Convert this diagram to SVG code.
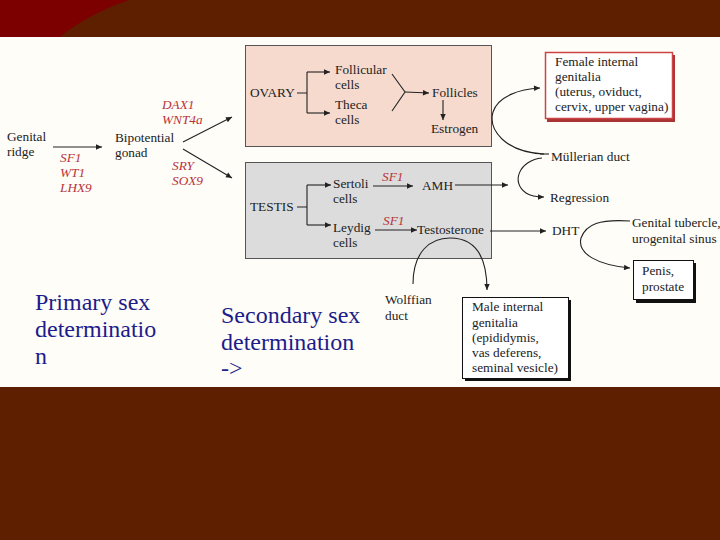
<svg xmlns="http://www.w3.org/2000/svg" width="720" height="540" viewBox="0 0 720 540">
<style>
.t{font-family:"Liberation Serif","Times New Roman",serif;font-size:13.3px;fill:#222}
.r{font-family:"Liberation Serif","Times New Roman",serif;font-size:13.3px;font-style:italic;fill:#b8343a}
.b{font-family:"Liberation Serif","Times New Roman",serif;font-size:24px;fill:#1c1c8a}
.ln{stroke:#222;stroke-width:1.1;fill:none}
.ar{stroke:#222;stroke-width:1.1;fill:none;marker-end:url(#ah)}
</style>
<defs>
<marker id="ah" viewBox="0 0 10 10" refX="10" refY="5" markerWidth="8" markerHeight="6" orient="auto" markerUnits="userSpaceOnUse">
<path d="M0,0.5 L10,5 L0,9.5 z" fill="#222"/>
</marker>
</defs>
<rect x="0" y="0" width="720" height="540" fill="#fffdf8"/>
<g id="top-band">
<rect x="0" y="0" width="720" height="37" fill="#5e1f00"/>
<path d="M0,0 L129,0 Q88,14 60,37 L0,37 z" fill="#7c0000"/>
</g>
<g id="bottom-band"><rect x="0" y="387" width="720" height="153" fill="#5e1f00"/></g>

<g id="ovary-box">
<rect x="245.5" y="45.5" width="246" height="101" fill="#f6dace" stroke="#555" stroke-width="1"/>
<text class="t" x="250" y="97">OVARY</text>
<text class="t" x="335" y="74">Follicular</text>
<text class="t" x="335" y="89">cells</text>
<text class="t" x="335" y="109">Theca</text>
<text class="t" x="335" y="124">cells</text>
<text class="t" x="432" y="97">Follicles</text>
<text class="t" x="431" y="133">Estrogen</text>
</g>
<g id="testis-box">
<rect x="245.5" y="162.5" width="246" height="96" fill="#dcdcdc" stroke="#555" stroke-width="1"/>
<text class="t" x="250" y="211">TESTIS</text>
<text class="t" x="333" y="188">Sertoli</text>
<text class="t" x="333" y="203">cells</text>
<text class="t" x="333" y="232">Leydig</text>
<text class="t" x="333" y="247">cells</text>
<text class="r" x="382" y="181">SF1</text>
<text class="t" x="422" y="190">AMH</text>
<text class="r" x="383" y="225">SF1</text>
<text class="t" x="417" y="234">Testosterone</text>
</g>
<g id="genital-ridge"><text class="t" x="7" y="141">Genital</text><text class="t" x="7" y="156">ridge</text></g>
<g id="ridge-genes"><text class="r" x="60" y="162">SF1</text><text class="r" x="60" y="177">WT1</text><text class="r" x="60" y="192">LHX9</text></g>
<g id="bipotential-gonad"><text class="t" x="115" y="142">Bipotential</text><text class="t" x="115" y="157">gonad</text></g>
<g id="ovary-genes"><text class="r" x="162" y="109">DAX1</text><text class="r" x="162" y="124">WNT4a</text></g>
<g id="testis-genes"><text class="r" x="172" y="170">SRY</text><text class="r" x="172" y="185">SOX9</text></g>

<g id="female-internal">
<rect x="547" y="55" width="128" height="67" fill="#a33"/>
<rect x="545.5" y="52.5" width="127" height="66" fill="#fff" stroke="#cc4444" stroke-width="1.5"/>
<text class="t" x="555" y="66">Female internal</text>
<text class="t" x="555" y="81">genitalia</text>
<text class="t" x="555" y="96">(uterus, oviduct,</text>
<text class="t" x="555" y="111">cervix, upper vagina)</text>
</g>
<g id="mullerian"><text class="t" x="551" y="161">Müllerian duct</text></g>
<g id="regression"><text class="t" x="550" y="202">Regression</text></g>
<g id="dht"><text class="t" x="552" y="235">DHT</text></g>
<g id="genital-tubercle"><text class="t" x="632" y="227">Genital tubercle,</text><text class="t" x="632" y="243">urogenital sinus</text></g>
<g id="penis-prostate">
<rect x="636" y="263" width="60" height="40" fill="#111"/>
<rect x="633.5" y="260.5" width="60" height="39" fill="#fff" stroke="#111" stroke-width="1"/>
<text class="t" x="642" y="275">Penis,</text>
<text class="t" x="642" y="291">prostate</text>
</g>
<g id="wolffian"><text class="t" x="385" y="304">Wolffian</text><text class="t" x="385" y="320">duct</text></g>
<g id="male-internal">
<rect x="465" y="300" width="106" height="81" fill="#111"/>
<rect x="462.5" y="297.5" width="106" height="81" fill="#fff" stroke="#111" stroke-width="1"/>
<text class="t" x="472" y="311">Male internal</text>
<text class="t" x="472" y="327">genitalia</text>
<text class="t" x="472" y="342">(epididymis,</text>
<text class="t" x="472" y="357">vas deferens,</text>
<text class="t" x="472" y="372">seminal vesicle)</text>
</g>
<g id="primary-label"><text class="b" x="35" y="310">Primary sex</text><text class="b" x="35" y="337">determinatio</text><text class="b" x="35" y="364">n</text></g>
<g id="secondary-label"><text class="b" x="221" y="323">Secondary sex</text><text class="b" x="221" y="350">determination</text><text class="b" x="221" y="376">-&gt;</text></g>

<g id="connectors">
<path class="ar" d="M53,147 L102,147"/>
<path class="ar" d="M183,142 L232,117"/>
<path class="ar" d="M183,149 L232,178"/>
<path class="ln" d="M297,93 L307,93 M307,72 L307,113"/>
<path class="ar" d="M307,72 L330,72"/>
<path class="ar" d="M307,113 L330,113"/>
<path class="ln" d="M392,74 L405,92 L392,111"/>
<path class="ar" d="M405,92 L429,93" stroke-width="1.8"/>
<path class="ar" d="M443,100 L443,120"/>
<path class="ln" d="M297,207 L307,207 M307,185 L307,225"/>
<path class="ar" d="M307,185 L331,185"/>
<path class="ar" d="M307,225 L331,225"/>
<path class="ar" d="M373,186 L413,186"/>
<path class="ar" d="M375,230 L417,230" stroke-width="1.8"/>
<path class="ar" d="M455,185 L508,185"/>
<path class="ar" d="M490,231 L546,231"/>
<path class="ln" d="M540,154 L549,154" stroke-width="2.5"/>
<path class="ar" d="M544,154 C505,152 488,130 493,112 C498,96 520,89 540,88"/>
<path class="ar" d="M542,158 C520,160 510,182 526,193 C532,197 538,197 544,197"/>
<path class="ar" d="M630,221 C600,219 586,224 581,238 C577,254 598,265 630,268"/>
<path class="ar" d="M413,284 C413,252 430,238 450,238 C475,238 487,255 487,290"/>
</g>
</svg>
